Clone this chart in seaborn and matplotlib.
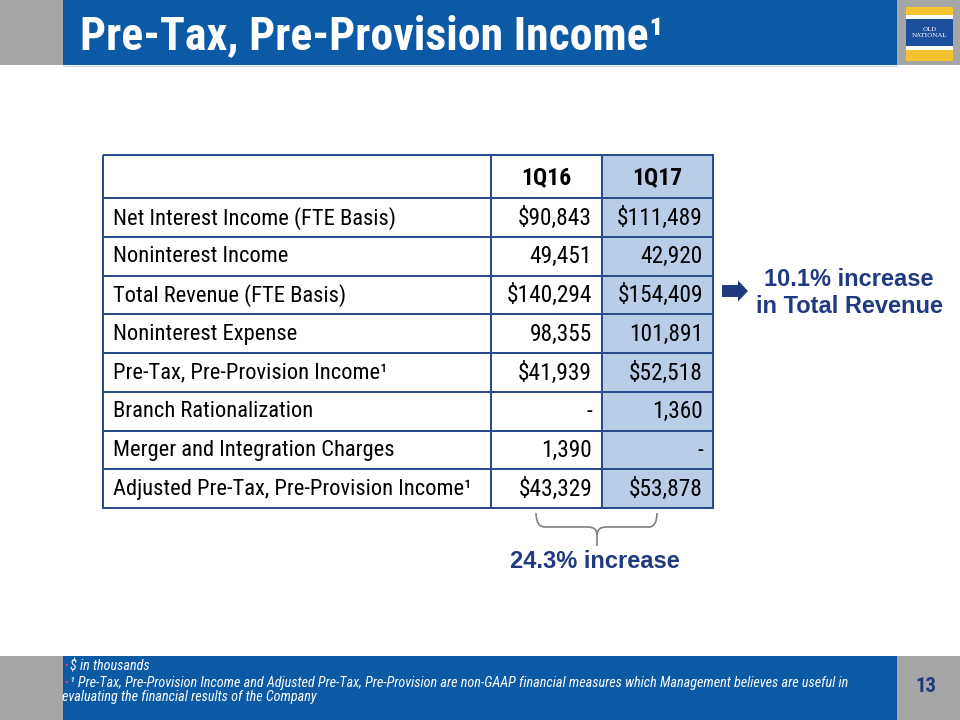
import numpy as np
import pandas as pd
import seaborn as sns
import matplotlib.pyplot as plt
from matplotlib.colors import ListedColormap
from matplotlib.patches import Rectangle, FancyArrow, PathPatch
from matplotlib.path import Path

sns.set_theme(style='white')
NARROW = ['Roboto Condensed', 'Liberation Sans', 'DejaVu Sans']
WIDE = ['Liberation Sans', 'DejaVu Sans']
plt.rcParams['font.family'] = NARROW

# table data ($ in thousands), None = "-"
row_labels = ['Net Interest Income (FTE Basis)', 'Noninterest Income', 'Total Revenue (FTE Basis)',
              'Noninterest Expense', 'Pre-Tax, Pre-Provision Income¹', 'Branch Rationalization',
              'Merger and Integration Charges', 'Adjusted Pre-Tax, Pre-Provision Income¹']
periods = ['1Q16', '1Q17']
q16 = [90843, 49451, 140294, 98355, 41939, None, 1390, 43329]
q17 = [111489, 42920, 154409, 101891, 52518, 1360, None, 53878]
dollar_rows = [True, False, True, False, True, False, False, True]
highlight = '1Q17'

title = 'Pre-Tax, Pre-Provision Income¹'
revenue_note = '10.1% increase\nin Total Revenue'
adjusted_note = '24.3% increase'
footnotes = ['$ in thousands',
             '¹ Pre-Tax, Pre-Provision Income and Adjusted Pre-Tax, Pre-Provision are non-GAAP financial '
             'measures which Management believes are useful in']
footnote_cont = 'evaluating the financial results of the Company'
page_no = '13'

NAVY = '#1f3a80'
GRID = '#2b4c8c'
BLUE = '#0c5aa6'
GRAY = '#a6a6a6'
SHADE = '#b9cde6'


def fmt(v, dollar):
    if v is None:
        return '-'
    return ('$' if dollar else '') + f'{v:,}'


W, H = 960, 720
fig = plt.figure(figsize=(9.6, 7.2), dpi=100)
bg = fig.add_axes([0, 0, 1, 1])
bg.set_xlim(0, W)
bg.set_ylim(H, 0)
bg.axis('off')


def px_axes(x0, y0, x1, y1):
    return fig.add_axes([x0 / W, 1 - y1 / H, (x1 - x0) / W, (y1 - y0) / H])


# header / footer bands
for y0, y1 in [(0, 65), (656, 720)]:
    bg.add_patch(Rectangle((0, y0), W, y1 - y0, color=GRAY, lw=0))
    bg.add_patch(Rectangle((63, y0), 834, y1 - y0, color=BLUE, lw=0))
bg.plot([63, 897], [66, 66], color='#cfe0f2', lw=1)

# logo
for y0, y1, c in [(7, 15, '#f4c430'), (15, 19, 'white'), (19, 46, '#1b4f9c'),
                  (46, 50, 'white'), (50, 61, '#f4c430')]:
    bg.add_patch(Rectangle((906, y0), 47, y1 - y0, color=c, lw=0))
bg.text(929.5, 32.5, 'OLD\nNATIONAL', color='white', fontsize=4.5, ha='center', va='center',
        family='DejaVu Serif', linespacing=1.1)

bg.text(80, 49, title, color='white', fontsize=33, fontweight='bold', va='baseline', ha='left')

# table built from heatmaps
cmap = ListedColormap(['white', SHADE])
shade_row = [1.0 if p == highlight else 0.0 for p in periods]
body_vals = pd.DataFrame([shade_row] * len(row_labels), columns=periods)
head_vals = pd.DataFrame([shade_row], columns=periods)


def block(rect, mat):
    ax = px_axes(*rect)
    sns.heatmap(mat, ax=ax, cmap=cmap, vmin=0, vmax=1, cbar=False, linewidths=1.1,
                linecolor=GRID, xticklabels=False, yticklabels=False)
    ax.collections[0].set_clip_on(False)
    ax.set_xlabel('')
    ax.set_ylabel('')
    return ax


LX0, LX1, VX1 = 103, 491, 713
HY0, HY1, BY1 = 155, 198, 508
block((LX0, HY0, LX1, HY1), np.zeros((1, 1)))
ax_head = block((LX1, HY0, VX1, HY1), head_vals)
ax_lab = block((LX0, HY1, LX1, BY1), np.zeros((len(row_labels), 1)))
ax_val = block((LX1, HY1, VX1, BY1), body_vals)

for j, p in enumerate(periods):
    ax_head.text(j + 0.5, 0.52, p, ha='center', va='center', fontsize=17, fontweight='bold', color='black')

pad_l = 10 / (LX1 - LX0)
pad_v = 10 / ((VX1 - LX1) / 2)
for i, lab in enumerate(row_labels):
    ax_lab.text(pad_l, i + 0.52, lab, ha='left', va='center', fontsize=16.2, color='black')
    for j, col in enumerate([q16, q17]):
        ax_val.text(j + 1 - pad_v, i + 0.52, fmt(col[i], dollar_rows[i]), ha='right', va='center',
                    fontsize=16.8, color='black')

# revenue callout
bg.add_patch(FancyArrow(722, 291, 26, 0, width=12, head_width=21, head_length=10,
                        length_includes_head=True, color=NAVY, lw=0))
bg.text(849, 293, revenue_note, color=NAVY, fontsize=17, fontweight='bold', ha='center', va='center',
        family=WIDE, linespacing=1.2)

# brace under the two columns
verts = [(536, 513), (536, 527), (545, 527), (588, 527), (597, 527), (597, 535), (597, 546),
         (597, 535), (597, 527), (606, 527), (649, 527), (657, 527), (657, 513)]
codes = [Path.MOVETO, Path.CURVE3, Path.CURVE3, Path.LINETO, Path.CURVE3, Path.CURVE3, Path.LINETO,
         Path.MOVETO, Path.CURVE3, Path.CURVE3, Path.LINETO, Path.CURVE3, Path.CURVE3]
bg.add_patch(PathPatch(Path(verts, codes), fill=False, edgecolor='#808080', lw=1.2))
bg.text(595, 561, adjusted_note, color=NAVY, fontsize=17, fontweight='bold', ha='center', va='center',
        family=WIDE)

# footer
for y, txt in zip([666, 683], footnotes):
    bg.text(64, y, '•', color='#e05050', fontsize=8, ha='left', va='center')
    bg.text(70, y, txt, color='white', fontsize=10.2, style='italic', ha='left', va='center')
bg.text(62, 697, footnote_cont, color='white', fontsize=10.2, style='italic', ha='left', va='center')
bg.text(926, 686, page_no, color=NAVY, fontsize=15, fontweight='bold', ha='center', va='center')

fig.savefig('out.png', dpi=100)
